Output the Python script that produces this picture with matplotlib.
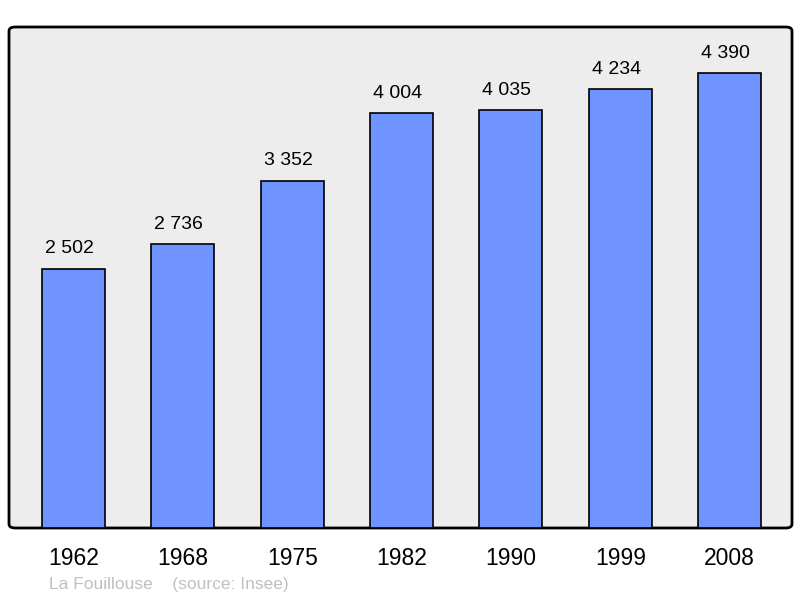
import matplotlib
matplotlib.use("Agg")
import matplotlib.pyplot as plt
from matplotlib.patches import FancyBboxPatch

years = ["1962", "1968", "1975", "1982", "1990", "1999", "2008"]
population = [2502, 2736, 3352, 4004, 4035, 4234, 4390]
value_labels = ["2 502", "2 736", "3 352", "4 004", "4 035", "4 234", "4 390"]

plt.rcParams["font.family"] = ["Liberation Sans", "DejaVu Sans"]

fig = plt.figure(figsize=(8, 5.98), dpi=100)
ax = fig.add_axes([9 / 800, 70 / 598, 783 / 800, 501 / 598])
ax.set_facecolor("none")

frame = FancyBboxPatch((0, 0), 1, 1, boxstyle="round,pad=0,rounding_size=0.008",
                       transform=ax.transAxes, facecolor="#ededed",
                       edgecolor="black", linewidth=2, zorder=0, clip_on=False)
ax.add_patch(frame)

x = range(len(years))
ax.bar(x, population, width=0.576, color="#7094ff", edgecolor="black",
       linewidth=1.2, zorder=2)
for i, (v, lab) in enumerate(zip(population, value_labels)):
    ax.annotate(lab, (i, v), xytext=(-3, 11), textcoords="offset points",
                ha="center", va="baseline", fontsize=14)

ax.set_xlim(-0.59, 6.57)
ax.set_ylim(0, 4834)
for s in ax.spines.values():
    s.set_visible(False)
ax.set_yticks([])
ax.set_xticks(list(x))
ax.set_xticklabels(years, fontsize=16.5)
ax.tick_params(axis="x", length=0, pad=14)

fig.text(49 / 800, 1 - 585 / 598, "La Fouillouse    (source: Insee)",
         color="#c0c0c0", fontsize=12.5, va="center", ha="left")

fig.savefig("out.png", dpi=100)
